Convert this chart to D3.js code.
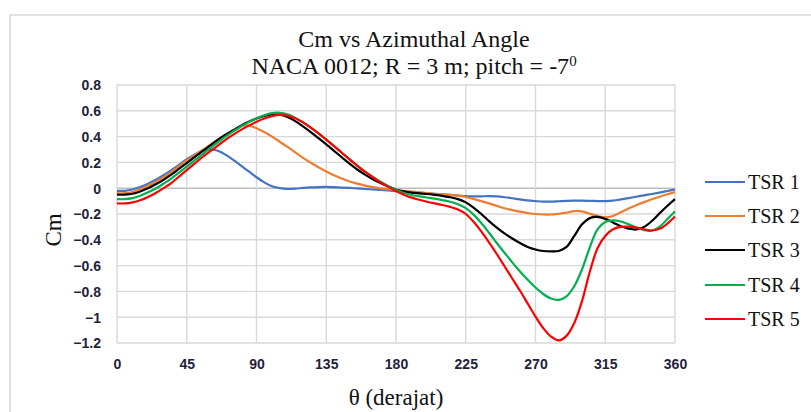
<!DOCTYPE html>
<html>
<head>
<meta charset="utf-8">
<script src="https://cdn.jsdelivr.net/npm/d3@7"></script>
<style>
  html, body { margin: 0; padding: 0; background: #fff; }
  svg { display: block; }
</style>
</head>
<body>
<svg id="chart" width="811" height="412"></svg>
<script>
// Azimuthal angle (degrees) at which Cm was sampled
const angles = [0,5,10,15,20,25,30,35,40,45,50,55,60,65,70,75,80,85,90,95,100,105,110,115,120,125,130,135,140,145,150,155,160,165,170,175,180,185,190,195,200,205,210,215,220,225,230,235,240,245,250,255,260,265,270,275,280,285,290,295,300,305,310,315,320,325,330,335,340,345,350,355,360];

// Moment coefficient per tip speed ratio
const tsr1 = [-0.02,-0.02,-0.01,0.01,0.035,0.065,0.10,0.14,0.18,0.225,0.26,0.29,0.30,0.29,0.26,0.22,0.175,0.13,0.085,0.045,0.015,0.0,-0.005,-0.003,0.002,0.006,0.009,0.01,0.008,0.005,0.002,-0.002,-0.006,-0.01,-0.014,-0.018,-0.022,-0.026,-0.03,-0.035,-0.04,-0.043,-0.047,-0.052,-0.057,-0.062,-0.064,-0.063,-0.062,-0.064,-0.07,-0.078,-0.087,-0.095,-0.10,-0.104,-0.104,-0.101,-0.098,-0.097,-0.097,-0.098,-0.10,-0.10,-0.096,-0.087,-0.077,-0.066,-0.055,-0.045,-0.034,-0.022,-0.01];
const tsr2 = [-0.04,-0.04,-0.03,-0.008,0.02,0.05,0.085,0.125,0.17,0.215,0.255,0.295,0.335,0.375,0.41,0.445,0.48,0.485,0.465,0.435,0.40,0.36,0.32,0.277,0.235,0.197,0.162,0.13,0.10,0.075,0.052,0.035,0.02,0.008,-0.001,-0.008,-0.015,-0.02,-0.026,-0.032,-0.038,-0.043,-0.047,-0.052,-0.058,-0.068,-0.083,-0.10,-0.118,-0.137,-0.155,-0.17,-0.182,-0.192,-0.20,-0.204,-0.204,-0.198,-0.19,-0.178,-0.18,-0.198,-0.215,-0.225,-0.215,-0.187,-0.158,-0.132,-0.108,-0.086,-0.066,-0.047,-0.03];
const tsr3 = [-0.05,-0.05,-0.043,-0.025,0.0,0.03,0.065,0.105,0.15,0.195,0.24,0.285,0.33,0.375,0.415,0.45,0.485,0.515,0.54,0.56,0.572,0.57,0.552,0.52,0.48,0.435,0.388,0.34,0.29,0.24,0.19,0.145,0.105,0.07,0.04,0.013,-0.01,-0.025,-0.035,-0.04,-0.045,-0.052,-0.06,-0.07,-0.085,-0.11,-0.15,-0.20,-0.255,-0.305,-0.35,-0.39,-0.425,-0.455,-0.475,-0.487,-0.49,-0.487,-0.455,-0.37,-0.28,-0.232,-0.222,-0.238,-0.265,-0.295,-0.313,-0.32,-0.30,-0.255,-0.195,-0.138,-0.085];
const tsr4 = [-0.085,-0.085,-0.077,-0.058,-0.032,-0.002,0.035,0.075,0.12,0.168,0.215,0.262,0.31,0.355,0.40,0.44,0.478,0.512,0.542,0.566,0.582,0.585,0.572,0.545,0.51,0.47,0.425,0.377,0.327,0.275,0.225,0.175,0.128,0.087,0.05,0.017,-0.013,-0.037,-0.053,-0.063,-0.072,-0.081,-0.092,-0.105,-0.125,-0.155,-0.205,-0.27,-0.345,-0.425,-0.50,-0.575,-0.645,-0.71,-0.77,-0.82,-0.855,-0.865,-0.838,-0.76,-0.63,-0.46,-0.32,-0.262,-0.25,-0.258,-0.28,-0.305,-0.325,-0.33,-0.30,-0.24,-0.18];
const tsr5 = [-0.118,-0.118,-0.11,-0.093,-0.068,-0.037,0.0,0.04,0.09,0.14,0.19,0.24,0.285,0.33,0.375,0.415,0.452,0.485,0.515,0.54,0.558,0.568,0.562,0.542,0.51,0.47,0.425,0.376,0.326,0.275,0.224,0.175,0.128,0.085,0.045,0.01,-0.022,-0.05,-0.073,-0.09,-0.105,-0.118,-0.13,-0.145,-0.165,-0.2,-0.26,-0.335,-0.42,-0.51,-0.605,-0.70,-0.795,-0.895,-0.995,-1.085,-1.15,-1.18,-1.145,-1.045,-0.875,-0.65,-0.465,-0.37,-0.318,-0.30,-0.298,-0.305,-0.318,-0.328,-0.315,-0.275,-0.22];

const seriesNames = ["TSR 1","TSR 2","TSR 3","TSR 4","TSR 5"];
const seriesValues = [tsr1, tsr2, tsr3, tsr4, tsr5];
const seriesColors = ["#4472C4","#ED7D31","#000000","#00B050","#FF0000"];

const xTicks = [0,45,90,135,180,225,270,315,360];
const yTicks = [0.8,0.6,0.4,0.2,0,-0.2,-0.4,-0.6,-0.8,-1,-1.2];

const titleLine1 = "Cm vs Azimuthal Angle";
const titleLine2 = "NACA 0012; R = 3 m; pitch = -7";
const titleLine2Sup = "0";
const xTitle = "\u03B8 (derajat)";
const yTitle = "Cm";

const svg = d3.select("#chart");
const W = 811, H = 412;
const plot = { left: 117, right: 675, top: 85, bottom: 343 };

const x = d3.scaleLinear().domain([0, 360]).range([plot.left, plot.right]);
const y = d3.scaleLinear().domain([-1.2, 0.8]).range([plot.bottom, plot.top]);

svg.append("rect").attr("width", W).attr("height", H).attr("fill", "#fff");

// chart frame
svg.append("rect")
  .attr("x", 10).attr("y", 15).attr("width", 830).attr("height", 430)
  .attr("fill", "none").attr("stroke", "#d9d9d9").attr("stroke-width", 1.5);

// grid
const grid = svg.append("g");
grid.selectAll("line.h").data(yTicks).join("line")
  .attr("x1", plot.left).attr("x2", plot.right)
  .attr("y1", d => y(d)).attr("y2", d => y(d))
  .attr("stroke", d => d === 0 ? "#bdbdbd" : "#d9d9d9")
  .attr("stroke-width", 1.4);
grid.selectAll("line.v").data(xTicks).join("line")
  .attr("y1", plot.top).attr("y2", plot.bottom)
  .attr("x1", d => x(d)).attr("x2", d => x(d))
  .attr("stroke", "#d9d9d9")
  .attr("stroke-width", 1.4);

// tick labels via d3 axes (domain and tick marks hidden)
const tickFont = "bold 14px 'Liberation Sans', Arial, sans-serif";
const yAxis = d3.axisLeft(y).tickValues(yTicks).tickSize(0).tickPadding(0)
  .tickFormat(d => d3.format("")(+d.toFixed(1)));
const gy = svg.append("g").attr("transform", `translate(${plot.left - 16},0)`).call(yAxis);
gy.select(".domain").remove();
gy.selectAll("text").style("font", tickFont).attr("fill", "#22223a").attr("dy", "0.35em");

const xAxis = d3.axisBottom(x).tickValues(xTicks).tickSize(0).tickPadding(0);
const gx = svg.append("g").attr("transform", `translate(0,${plot.bottom + 16})`).call(xAxis);
gx.select(".domain").remove();
gx.selectAll("text").style("font", tickFont).attr("fill", "#22223a").attr("dy", "0.71em");

// series
const line = d3.line()
  .x((d, i) => x(angles[i]))
  .y(d => y(d))
  .curve(d3.curveCatmullRom.alpha(0.5));

svg.append("g").selectAll("path").data(seriesValues).join("path")
  .attr("d", d => line(d))
  .attr("fill", "none")
  .attr("stroke", (d, i) => seriesColors[i])
  .attr("stroke-width", 2.2)
  .attr("stroke-linejoin", "round");

// titles
const serif = "'Liberation Serif', 'Times New Roman', serif";
svg.append("text")
  .attr("x", 414).attr("y", 47)
  .attr("text-anchor", "middle")
  .style("font-family", serif).style("font-size", "24px")
  .attr("fill", "#111")
  .text(titleLine1);

const t2 = svg.append("text")
  .attr("x", 414).attr("y", 74)
  .attr("text-anchor", "middle")
  .style("font-family", serif).style("font-size", "24px")
  .attr("fill", "#111");
t2.append("tspan").text(titleLine2);
t2.append("tspan").attr("dy", "-8").style("font-size", "15px").text(titleLine2Sup);

svg.append("text")
  .attr("transform", "translate(61,230) rotate(-90)")
  .attr("text-anchor", "middle")
  .style("font-family", serif).style("font-size", "23px")
  .attr("fill", "#111")
  .text(yTitle);

svg.append("text")
  .attr("x", 396).attr("y", 405)
  .attr("text-anchor", "middle")
  .style("font-family", serif).style("font-size", "23px")
  .attr("fill", "#111")
  .text(xTitle);

// legend
const legendY = [182, 216, 250, 285, 319];
const lg = svg.append("g").selectAll("g").data(seriesNames).join("g")
  .attr("transform", (d, i) => `translate(705,${legendY[i]})`);
lg.append("line").attr("x1", 0).attr("x2", 40)
  .attr("stroke", (d, i) => seriesColors[i]).attr("stroke-width", 2.2);
lg.append("text").attr("x", 43).attr("dy", "0.33em")
  .style("font-family", serif).style("font-size", "20px")
  .attr("fill", "#111")
  .text(d => d);
</script>
</body>
</html>
